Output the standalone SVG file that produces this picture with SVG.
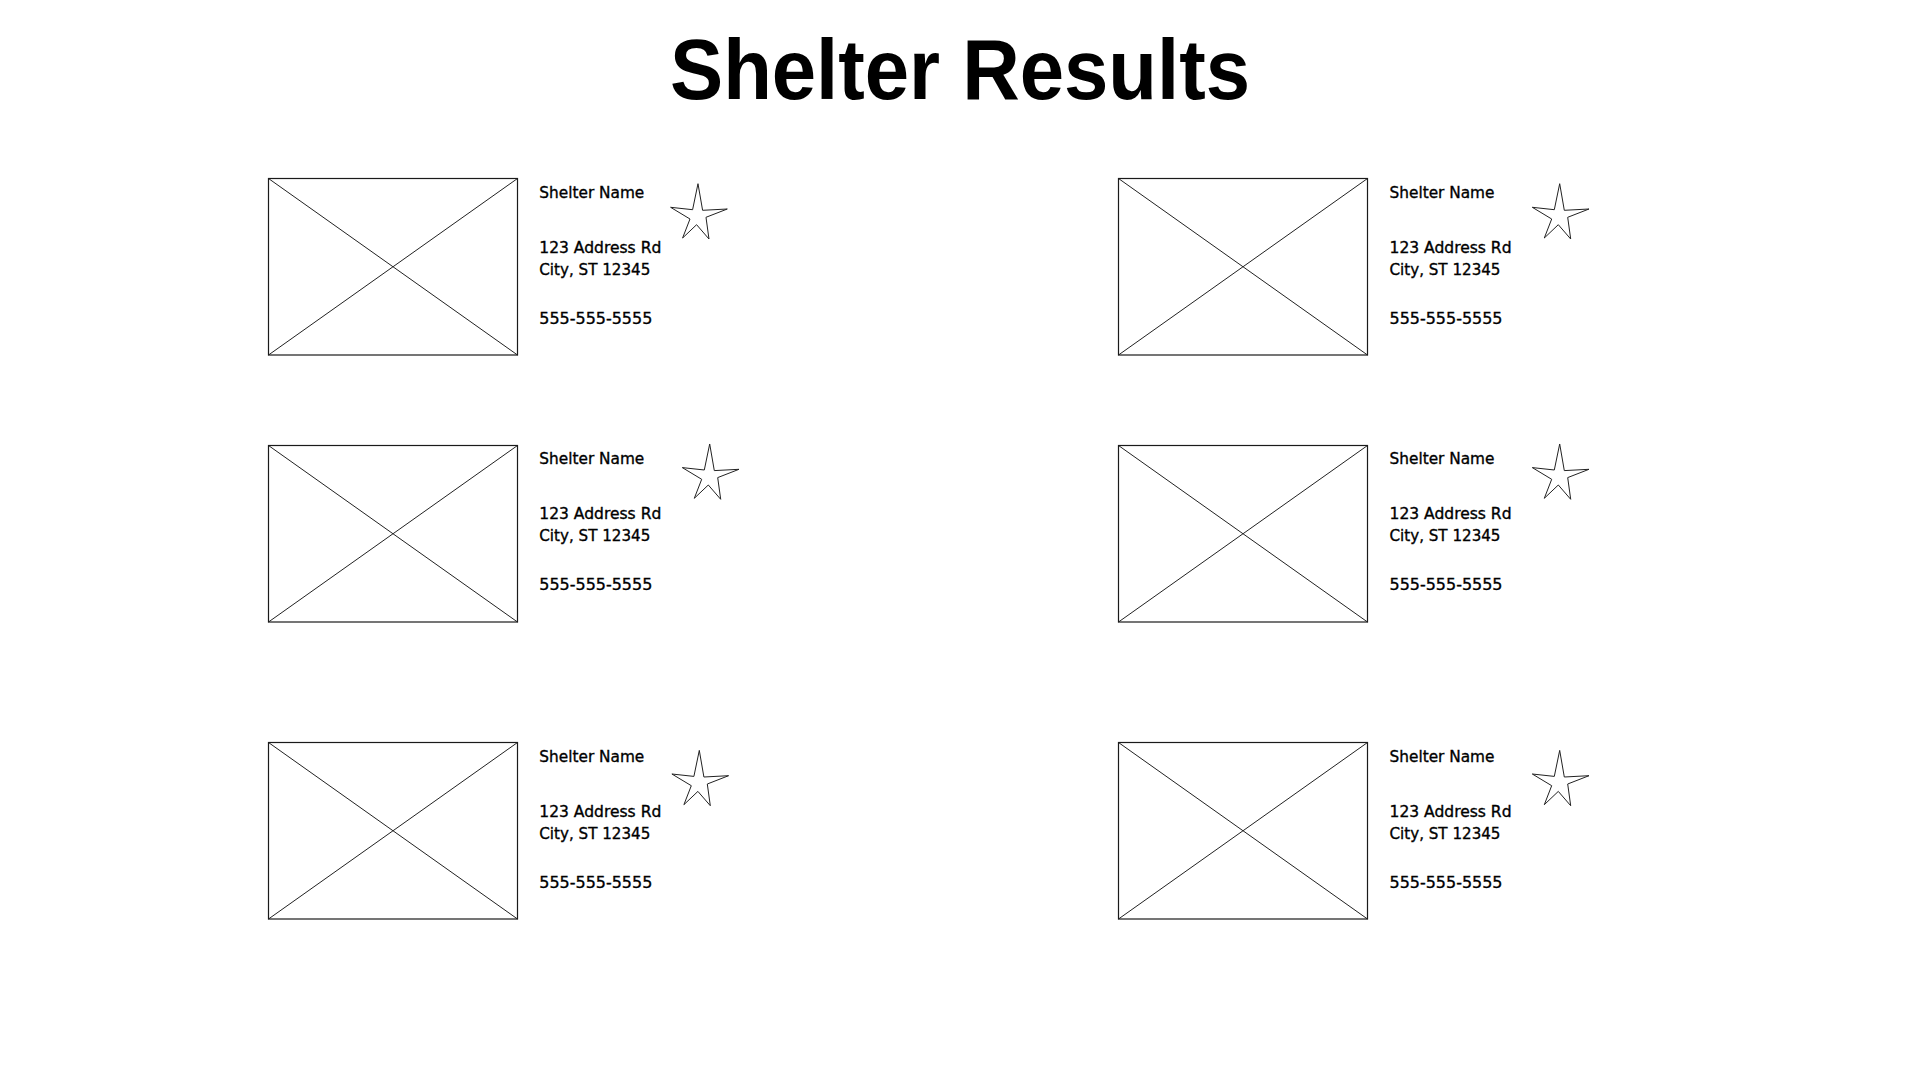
<svg xmlns="http://www.w3.org/2000/svg" xmlns:xlink="http://www.w3.org/1999/xlink" width="1920" height="1080" viewBox="0 0 1920 1080">
<style>
.title{font-family:"Liberation Sans",Arial,sans-serif;font-weight:bold;font-size:85px;fill:#000}
.t{font-family:"DejaVu Sans","Liberation Sans",sans-serif;font-size:15.3px;fill:#000;stroke:#000;stroke-width:0.35}
.img{fill:#fff;stroke:#1a1a1a;stroke-width:1.2}
.x{stroke:#222;stroke-width:1;fill:none}
.star{fill:#fff;stroke:#222;stroke-width:1;stroke-linejoin:miter}
</style>
<defs>
<path id="star" class="star" d="M-0.3,-31.3 L4.3,-4.7 L29,-6 L7.7,2.3 L10.7,24 L-1.7,9.7 L-15.7,23 L-8.3,4 L-27.7,-7.7 L-5.7,-5.3 Z"/>
<g id="ph">
<rect class="img" x="0" y="0" width="249" height="176.5"/>
<line class="x" x1="0" y1="0" x2="249" y2="176.5"/>
<line class="x" x1="249" y1="0" x2="0" y2="176.5"/>
</g>
</defs>
<rect width="1920" height="1080" fill="#fff"/>
<text class="title" x="670" y="99" textLength="580" lengthAdjust="spacingAndGlyphs">Shelter Results</text>

<g id="card1">
<use xlink:href="#ph" x="268.5" y="178.5"/>
<text class="t" x="539.3" y="198.3" textLength="105" lengthAdjust="spacingAndGlyphs">Shelter Name</text>
<text class="t" x="539.3" y="253.3" textLength="122" lengthAdjust="spacingAndGlyphs">123 Address Rd</text>
<text class="t" x="539.3" y="275" textLength="111" lengthAdjust="spacingAndGlyphs">City, ST 12345</text>
<text class="t" x="539.3" y="324" textLength="113" lengthAdjust="spacingAndGlyphs">555-555-5555</text>
<use xlink:href="#star" x="698.3" y="215"/>
</g>

<g id="card2">
<use xlink:href="#ph" x="1118.5" y="178.5"/>
<text class="t" x="1389.5" y="198.3" textLength="105" lengthAdjust="spacingAndGlyphs">Shelter Name</text>
<text class="t" x="1389.5" y="253.3" textLength="122" lengthAdjust="spacingAndGlyphs">123 Address Rd</text>
<text class="t" x="1389.5" y="275" textLength="111" lengthAdjust="spacingAndGlyphs">City, ST 12345</text>
<text class="t" x="1389.5" y="324" textLength="113" lengthAdjust="spacingAndGlyphs">555-555-5555</text>
<use xlink:href="#star" x="1560" y="215"/>
</g>

<g id="card3">
<use xlink:href="#ph" x="268.5" y="445.5"/>
<text class="t" x="539.3" y="464.3" textLength="105" lengthAdjust="spacingAndGlyphs">Shelter Name</text>
<text class="t" x="539.3" y="518.8" textLength="122" lengthAdjust="spacingAndGlyphs">123 Address Rd</text>
<text class="t" x="539.3" y="540.5" textLength="111" lengthAdjust="spacingAndGlyphs">City, ST 12345</text>
<text class="t" x="539.3" y="589.5" textLength="113" lengthAdjust="spacingAndGlyphs">555-555-5555</text>
<use xlink:href="#star" x="710" y="475.3"/>
</g>

<g id="card4">
<use xlink:href="#ph" x="1118.5" y="445.5"/>
<text class="t" x="1389.5" y="464.3" textLength="105" lengthAdjust="spacingAndGlyphs">Shelter Name</text>
<text class="t" x="1389.5" y="518.8" textLength="122" lengthAdjust="spacingAndGlyphs">123 Address Rd</text>
<text class="t" x="1389.5" y="540.5" textLength="111" lengthAdjust="spacingAndGlyphs">City, ST 12345</text>
<text class="t" x="1389.5" y="589.5" textLength="113" lengthAdjust="spacingAndGlyphs">555-555-5555</text>
<use xlink:href="#star" x="1560" y="475.3"/>
</g>

<g id="card5">
<use xlink:href="#ph" x="268.5" y="742.5"/>
<text class="t" x="539.3" y="761.7" textLength="105" lengthAdjust="spacingAndGlyphs">Shelter Name</text>
<text class="t" x="539.3" y="817.3" textLength="122" lengthAdjust="spacingAndGlyphs">123 Address Rd</text>
<text class="t" x="539.3" y="839" textLength="111" lengthAdjust="spacingAndGlyphs">City, ST 12345</text>
<text class="t" x="539.3" y="887.7" textLength="113" lengthAdjust="spacingAndGlyphs">555-555-5555</text>
<use xlink:href="#star" x="699.6" y="781.7"/>
</g>

<g id="card6">
<use xlink:href="#ph" x="1118.5" y="742.5"/>
<text class="t" x="1389.5" y="761.7" textLength="105" lengthAdjust="spacingAndGlyphs">Shelter Name</text>
<text class="t" x="1389.5" y="817.3" textLength="122" lengthAdjust="spacingAndGlyphs">123 Address Rd</text>
<text class="t" x="1389.5" y="839" textLength="111" lengthAdjust="spacingAndGlyphs">City, ST 12345</text>
<text class="t" x="1389.5" y="887.7" textLength="113" lengthAdjust="spacingAndGlyphs">555-555-5555</text>
<use xlink:href="#star" x="1560" y="781.7"/>
</g>

<g id="connectors"></g>
</svg>
